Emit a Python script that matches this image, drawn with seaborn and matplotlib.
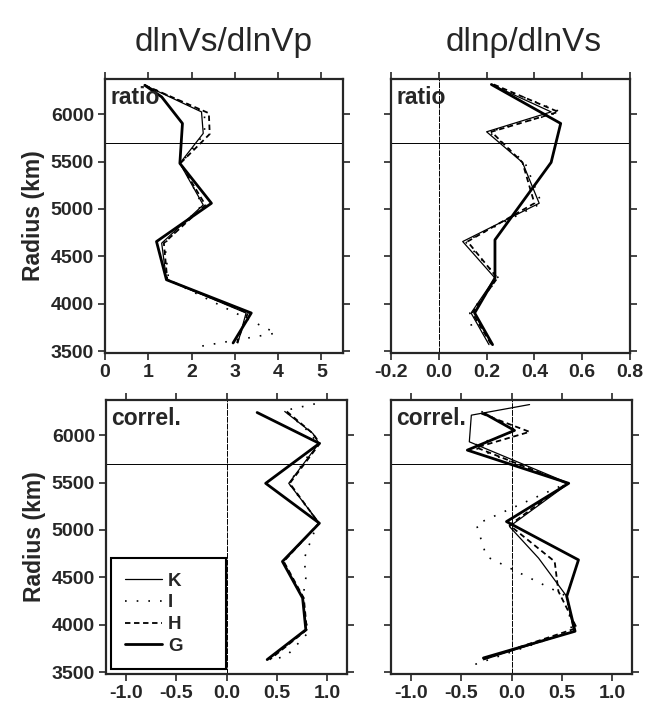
import matplotlib
matplotlib.use("Agg")
import matplotlib.pyplot as plt
import seaborn as sns
import pandas as pd

# ---------------- data ----------------
models = ["K", "I", "H", "G"]

# top-left: ratio dlnVs/dlnVp
rt_K_r = [6305, 6024, 5797, 5481, 5042, 4639, 4253, 3902, 3586]
rt_K_v = [0.92, 2.23, 2.27, 1.73, 2.27, 1.31, 1.42, 3.26, 3.07]
rt_I_r = [6305, 6024, 5797, 5481, 5042, 4639, 4253, 3690, 3550]
rt_I_v = [0.92, 2.30, 2.30, 1.76, 2.25, 1.38, 1.47, 3.95, 2.20]
rt_H_r = [6305, 6010, 5790, 5481, 5042, 4639, 4253, 3902, 3586]
rt_H_v = [0.92, 2.40, 2.42, 1.74, 2.32, 1.36, 1.44, 3.30, 3.05]
rt_G_r = [6305, 6182, 5902, 5481, 5060, 4656, 4253, 3902, 3586]
rt_G_v = [0.92, 1.31, 1.79, 1.73, 2.46, 1.19, 1.42, 3.38, 2.96]

# top-right: ratio dlnrho/dlnVs
rr_K_r = [6313, 6024, 5814, 5491, 5060, 4656, 4271, 3902, 3568]
rr_K_v = [0.22, 0.47, 0.20, 0.35, 0.42, 0.10, 0.235, 0.135, 0.21]
rr_I_r = [6313, 6024, 5814, 5491, 5060, 4656, 4271, 3902, 3690]
rr_I_v = [0.22, 0.51, 0.21, 0.36, 0.43, 0.11, 0.25, 0.13, 0.14]
rr_H_r = [6313, 6024, 5814, 5491, 5060, 4656, 4271, 3902, 3568]
rr_H_v = [0.23, 0.50, 0.22, 0.35, 0.40, 0.12, 0.245, 0.14, 0.22]
rr_G_r = [6313, 5902, 5491, 4674, 4271, 3902, 3568]
rr_G_v = [0.22, 0.51, 0.47, 0.235, 0.235, 0.15, 0.225]

# bottom-left: correlation dlnVs/dlnVp
cl_K_r = [6250, 6018, 5913, 5492, 5071, 4667, 4281, 3947, 3632]
cl_K_v = [0.58, 0.86, 0.92, 0.62, 0.925, 0.56, 0.76, 0.79, 0.41]
cl_I_r = [6330, 6260, 6018, 5913, 5492, 5071, 4947, 4702, 4492, 4281, 3913, 3684, 3615]
cl_I_v = [0.88, 0.58, 0.84, 0.90, 0.62, 0.92, 0.86, 0.775, 0.79, 0.76, 0.81, 0.61, 0.44]
cl_H_r = [6250, 6018, 5913, 5492, 5071, 4667, 4281, 3947, 3632]
cl_H_v = [0.60, 0.86, 0.93, 0.63, 0.92, 0.57, 0.77, 0.80, 0.43]
cl_G_r = [6239, 5913, 5492, 5071, 4667, 4281, 3947, 3632]
cl_G_v = [0.305, 0.925, 0.39, 0.925, 0.557, 0.758, 0.79, 0.405]

# bottom-right: correlation dlnrho/dlnVs
cr_K_r = [6323, 6211, 5930, 5492, 5036, 4702, 4299, 3931, 3630]
cr_K_v = [0.18, -0.40, -0.42, 0.57, -0.02, 0.27, 0.55, 0.62, -0.28]
cr_I_r = [6250, 6050, 5880, 5492, 5060, 4720, 4300, 3931, 3579]
cr_I_v = [-0.30, 0.05, -0.40, 0.55, -0.35, -0.25, 0.55, 0.60, -0.37]
cr_H_r = [6228, 6035, 5870, 5492, 5050, 4667, 4352, 3965, 3640]
cr_H_v = [-0.30, 0.18, -0.35, 0.55, -0.02, 0.43, 0.467, 0.65, -0.27]
cr_G_r = [6228, 6050, 5842, 5492, 5088, 4684, 4299, 3931, 3649]
cr_G_v = [-0.27, 0.03, -0.44, 0.57, -0.05, 0.667, 0.55, 0.633, -0.28]

titles = ["dlnVs/dlnVp", "dlnρ/dlnVs"]
panel_labels = ["ratio", "correl."]
y_ticks = [3500, 4000, 4500, 5000, 5500, 6000]
x_ticks_tl = [0, 1, 2, 3, 4, 5]
x_ticks_tr = [-0.2, 0.0, 0.2, 0.4, 0.6, 0.8]
x_ticks_bot = [-1.0, -0.5, 0.0, 0.5, 1.0]
r_670 = 5701

# ---------------- styling ----------------
sns.set_style("ticks")
plt.rcParams["font.family"] = ["Liberation Sans", "DejaVu Sans"]
plt.rcParams["axes.unicode_minus"] = False

W, H = 661, 713
fig = plt.figure(figsize=(W / 100, H / 100), dpi=100)


def add_ax(l, t, r, b):
    return fig.add_axes([l / W, 1 - b / H, (r - l) / W, (b - t) / H])


ax_tl = add_ax(105, 79, 343, 353)
ax_tr = add_ax(391, 79, 630, 353)
ax_bl = add_ax(106, 400, 347, 674)
ax_br = add_ax(391, 400, 632, 674)

styles = {
    "K": dict(lw=0.9, ls="-"),
    "I": dict(lw=1.2, ls=(0, (1, 6))),
    "H": dict(lw=1.3, ls=(0, (3, 2))),
    "G": dict(lw=2.0, ls="-"),
}

panels = [
    (ax_tl, {"K": (rt_K_r, rt_K_v), "I": (rt_I_r, rt_I_v), "H": (rt_H_r, rt_H_v), "G": (rt_G_r, rt_G_v)},
     (0, 5.5), x_ticks_tl, [str(t) for t in x_ticks_tl], True, False, panel_labels[0]),
    (ax_tr, {"K": (rr_K_r, rr_K_v), "I": (rr_I_r, rr_I_v), "H": (rr_H_r, rr_H_v), "G": (rr_G_r, rr_G_v)},
     (-0.2, 0.8), x_ticks_tr, [f"{t:.1f}" for t in x_ticks_tr], False, True, panel_labels[0]),
    (ax_bl, {"K": (cl_K_r, cl_K_v), "I": (cl_I_r, cl_I_v), "H": (cl_H_r, cl_H_v), "G": (cl_G_r, cl_G_v)},
     (-1.2, 1.2), x_ticks_bot, [f"{t:.1f}" for t in x_ticks_bot], True, True, panel_labels[1]),
    (ax_br, {"K": (cr_K_r, cr_K_v), "I": (cr_I_r, cr_I_v), "H": (cr_H_r, cr_H_v), "G": (cr_G_r, cr_G_v)},
     (-1.2, 1.2), x_ticks_bot, [f"{t:.1f}" for t in x_ticks_bot], False, True, panel_labels[1]),
]

for ax, series, xlim, xt, xtl, ylab, zero, plabel in panels:
    ax.axhline(r_670, color="black", lw=0.7, zorder=1)
    if zero:
        ax.axvline(0, color="black", lw=0.7, ls=(0, (6, 1)), zorder=1)
    for m in models:
        r, v = series[m]
        df = pd.DataFrame({"v": v, "r": r})
        sns.lineplot(data=df, x="v", y="r", sort=False, estimator=None, ax=ax,
                     color="black", label=m, legend=False, zorder=3, **styles[m])
    ax.set_xlim(*xlim)
    ax.set_ylim(3480, 6371)
    ax.set_xticks(xt)
    ax.set_xticklabels(xtl)
    ax.set_yticks(y_ticks)
    if ylab:
        ax.set_ylabel("Radius (km)", fontsize=16.5, fontweight="bold", labelpad=4)
    else:
        ax.set_ylabel("")
        ax.set_yticklabels([])
    ax.set_xlabel("")
    ax.tick_params(direction="out", top=True, right=True, length=5, width=1.2,
                   labelsize=14, pad=3)
    for lab in ax.get_xticklabels() + ax.get_yticklabels():
        lab.set_fontweight("bold")
    for sp in ax.spines.values():
        sp.set_linewidth(1.6)
        sp.set_visible(True)
    ax.text(0.022, 0.975, plabel, transform=ax.transAxes, ha="left", va="top",
            fontsize=16.5, fontweight="bold", zorder=5)

# legend in bottom-left panel
handles, labels = ax_bl.get_legend_handles_labels()
leg = ax_bl.legend(handles, labels, loc="lower left", bbox_to_anchor=(0.02, 0.018, 0.478, 0.43),
                   mode="expand", frameon=True, fancybox=False, edgecolor="black",
                   prop={"weight": "bold", "size": 13.5}, handlelength=2.0, handletextpad=0.3,
                   labelspacing=0.25, borderpad=0.75, borderaxespad=0)
leg.get_frame().set_linewidth(1.5)
leg.get_frame().set_alpha(1)

fig.text(224 / W, 1 - 42 / H, titles[0], ha="center", va="center", fontsize=24)
fig.text(524 / W, 1 - 42 / H, titles[1], ha="center", va="center", fontsize=24)

fig.savefig("out.png", dpi=100)
